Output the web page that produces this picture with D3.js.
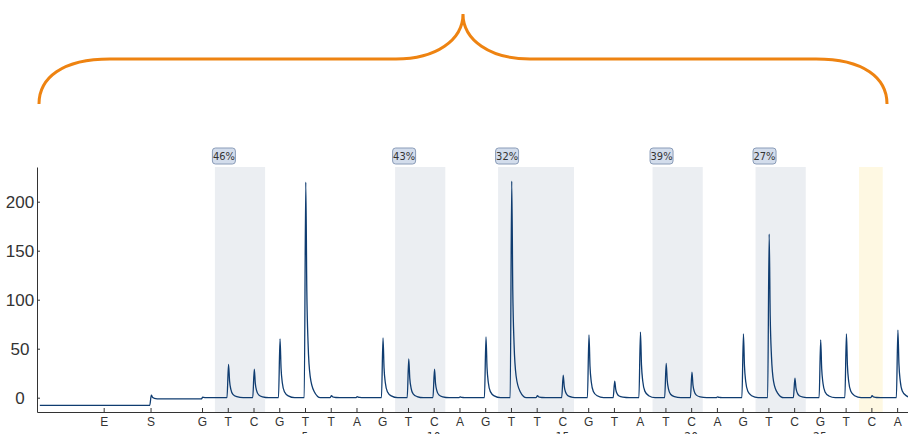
<!DOCTYPE html>
<html>
<head>
<meta charset="utf-8">
<script src="https://cdn.jsdelivr.net/npm/d3@7"></script>
<style>
  body { margin: 0; background: #fff; }
  svg { display: block; font-family: "Liberation Sans Narrow", "DejaVu Sans Condensed", "Arial Narrow", sans-serif; }
  .axis path, .axis line { stroke: #333; }
  .axis text { fill: #333; }
</style>
</head>
<body>
<div id="chart-area"></div>
<script>
// dispensation order and where each one sits on the run axis
var dispensations = ["E", "S", "G", "T", "C", "G", "T", "T", "A", "G", "T", "C", "A", "G", "T", "T", "C", "G", "T", "A", "T", "C", "A", "G", "T", "C", "G", "T", "C", "A"];
var dispPos = [-2.82, -1, 1, 2, 3, 4, 5, 6, 7, 8, 9, 10, 11, 12, 13, 14, 15, 16, 17, 18, 19, 20, 21, 22, 23, 24, 25, 26, 27, 28];
// peak height above the local baseline, and the baseline level after each dispensation
var peakHeights = [0, 4, 0.5, 34, 29, 60, 220, 2, 1, 61, 39.5, 29, 0.8, 62, 221, 2, 23, 64, 17, 67, 35, 26, 0.8, 65, 167, 20, 59, 65, 2, 69];
var baseLevel = [-7.8, -1.3, 0, 0, 0, 0, 0, 0, 0, 0, 0, 0, 0, 0, 0, 0, 0, 0, 0, 0, 0, 0, 0, 0, 0, 0, 0, 0, 0, 0];
var runNumbers = [5, 10, 15, 20, 25];
var yTicks = [0, 50, 100, 150, 200];

// CpG sites: shaded ranges (first, last dispensation) with methylation labels
var siteStart = [2, 9, 13, 19, 23];
var siteEnd = [3, 10, 15, 20, 24];
var siteLabels = ["46%", "43%", "32%", "39%", "27%"];
// bisulfite control
var controlStart = [27];
var controlEnd = [27];

var width = 908, height = 434;

var svg = d3.select("#chart-area")
    .append("svg")
    .attr("width", width)
    .attr("height", height);

var x = d3.scaleLinear().domain([-5.41, 28.5]).range([37, 910]);
var y = d3.scaleLinear().domain([-14.6, 235.4]).range([412, 167]);

// brace over the whole analysed sequence
svg.append("path")
    .attr("d", "M39,104 C39,78 62,59 110,59 H396 C436,59 463,40 463,14 C463,40 490,59 530,59 H816 C864,59 887,78 887,104")
    .attr("fill", "none")
    .attr("stroke", "#ee8311")
    .attr("stroke-width", 3);

// shaded regions
svg.selectAll("rect.site")
    .data(siteStart)
    .enter().append("rect")
    .attr("class", "site")
    .attr("x", d => x(d - 0.5))
    .attr("y", y.range()[1])
    .attr("width", (d, i) => x(siteEnd[i] + 0.45) - x(d - 0.5))
    .attr("height", y.range()[0] - y.range()[1])
    .attr("fill", "#ebeef2");

svg.selectAll("rect.control")
    .data(controlStart)
    .enter().append("rect")
    .attr("class", "control")
    .attr("x", d => x(d - 0.48))
    .attr("y", y.range()[1])
    .attr("width", (d, i) => x(controlEnd[i] + 0.44) - x(d - 0.48))
    .attr("height", y.range()[0] - y.range()[1])
    .attr("fill", "#fef8e2");

// badges
var badges = svg.selectAll("g.badge")
    .data(siteStart)
    .enter().append("g")
    .attr("class", "badge")
    .attr("transform", d => "translate(" + (x(d - 0.5) - 2.5) + ", 148)");

badges.append("rect")
    .attr("width", 23)
    .attr("height", 16)
    .attr("rx", 3)
    .attr("fill", "#d3ddec")
    .attr("stroke", "#8a9cb8");

badges.append("text")
    .attr("x", 11.5)
    .attr("y", 12)
    .attr("text-anchor", "middle")
    .attr("font-size", "11px")
    .attr("fill", "#333")
    .text((d, i) => siteLabels[i]);

// trace: rise at each dispensation, then decay back to the baseline
var shape = [[-0.03, 0], [0.03, 1], [0.07, 0.5], [0.12, 0.25], [0.2, 0.1], [0.35, 0.03], [0.6, 0]];
var pts = [[-5.3, baseLevel[0]]];
dispPos.forEach((p, i) => {
    var prev = i > 0 ? baseLevel[i - 1] : baseLevel[0];
    var h = peakHeights[i];
    if (h === 0) return;
    pts.push([p + shape[0][0], prev]);
    shape.slice(1).forEach(s => pts.push([p + s[0], baseLevel[i] + h * s[1]]));
});
pts.push([28.5, 0]);

var line = d3.line()
    .x(d => x(d[0]))
    .y(d => y(d[1]))
    .curve(d3.curveMonotoneX);

svg.append("path")
    .datum(pts)
    .attr("d", line)
    .attr("fill", "none")
    .attr("stroke", "#0f3c70")
    .attr("stroke-width", 1.3);

// axes
var yAxisCall = d3.axisLeft(y).tickValues(yTicks).tickSizeInner(-3).tickSizeOuter(0);
var yAxisGroup = svg.append("g")
    .attr("class", "y axis")
    .attr("transform", "translate(37, 0)")
    .call(yAxisCall);
yAxisGroup.selectAll("text")
    .attr("x", -17)
    .attr("text-anchor", "middle")
    .attr("font-size", "17px");

var xAxisCall = d3.axisBottom(x).tickValues(dispPos).tickFormat((d, i) => dispensations[i]).tickSizeInner(-4).tickSizeOuter(0);
var xAxisGroup = svg.append("g")
    .attr("class", "x axis")
    .attr("transform", "translate(0, 412)")
    .call(xAxisCall);
xAxisGroup.selectAll("text")
    .attr("y", 5)
    .attr("font-size", "12px");

// run numbers sit below the letters, mostly past the bottom edge as in the original
svg.selectAll("text.run")
    .data(runNumbers)
    .enter().append("text")
    .attr("class", "run")
    .attr("x", d => x(d))
    .attr("y", 441)
    .attr("text-anchor", "middle")
    .attr("font-size", "12px")
    .attr("fill", "#333")
    .text(d => d);
</script>
</body>
</html>
